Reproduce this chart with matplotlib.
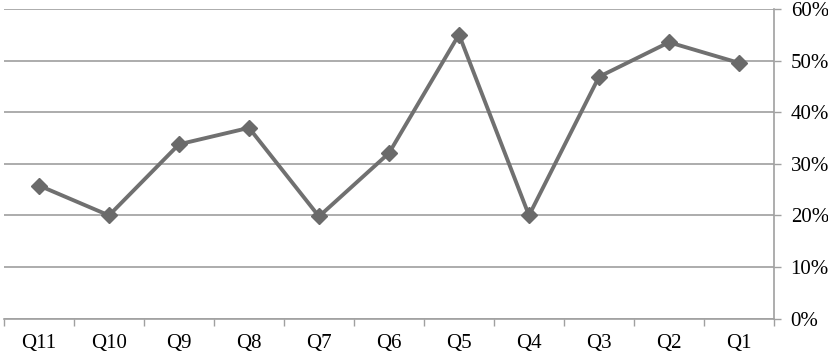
import matplotlib
matplotlib.use("Agg")
import matplotlib.pyplot as plt
from matplotlib.ticker import FixedLocator, PercentFormatter

categories = ["Q11", "Q10", "Q9", "Q8", "Q7", "Q6", "Q5", "Q4", "Q3", "Q2", "Q1"]
values = [25.8, 20.0, 33.8, 37.0, 19.8, 32.1, 55.1, 20.0, 46.9, 53.6, 49.6]
yticks = [0, 10, 20, 30, 40, 50, 60]

plt.rcParams['font.family'] = ['Liberation Serif', 'DejaVu Serif']

fig = plt.figure(figsize=(8.29, 3.55), dpi=100)
ax = fig.add_axes([4/829, 1 - 318.5/355, 770/829, (318.5 - 9.3)/355])

x = list(range(len(categories)))
ax.plot(x, values, color="#707070", lw=2.8, marker="D", markersize=8,
        markerfacecolor="#6a6a6a", markeredgecolor="#6a6a6a", zorder=3)

ax.set_xlim(-0.5, len(categories) - 0.5)
ax.set_ylim(0, 60)
ax.set_yticks(yticks)
ax.yaxis.set_major_formatter(PercentFormatter(decimals=0))
ax.yaxis.tick_right()
ax.grid(axis="y", color="#a6a6a6", lw=1.3)
ax.set_axisbelow(True)

ax.set_xticks(x)
ax.set_xticklabels(categories)
ax.xaxis.set_minor_locator(FixedLocator([i - 0.5 for i in range(len(categories) + 1)]))
ax.tick_params(axis="x", which="major", length=0, pad=11, labelsize=15, colors="black")
ax.tick_params(axis="x", which="minor", length=5, width=1, color="#a0a0a0")
ax.tick_params(axis="y", which="major", length=5, width=1, color="#a0a0a0", labelsize=15, pad=7)

for s in ["top", "left"]:
    ax.spines[s].set_visible(False)
for s in ["bottom", "right"]:
    ax.spines[s].set_color("#a0a0a0")
    ax.spines[s].set_linewidth(1.2)

fig.savefig("out.png", dpi=100)
